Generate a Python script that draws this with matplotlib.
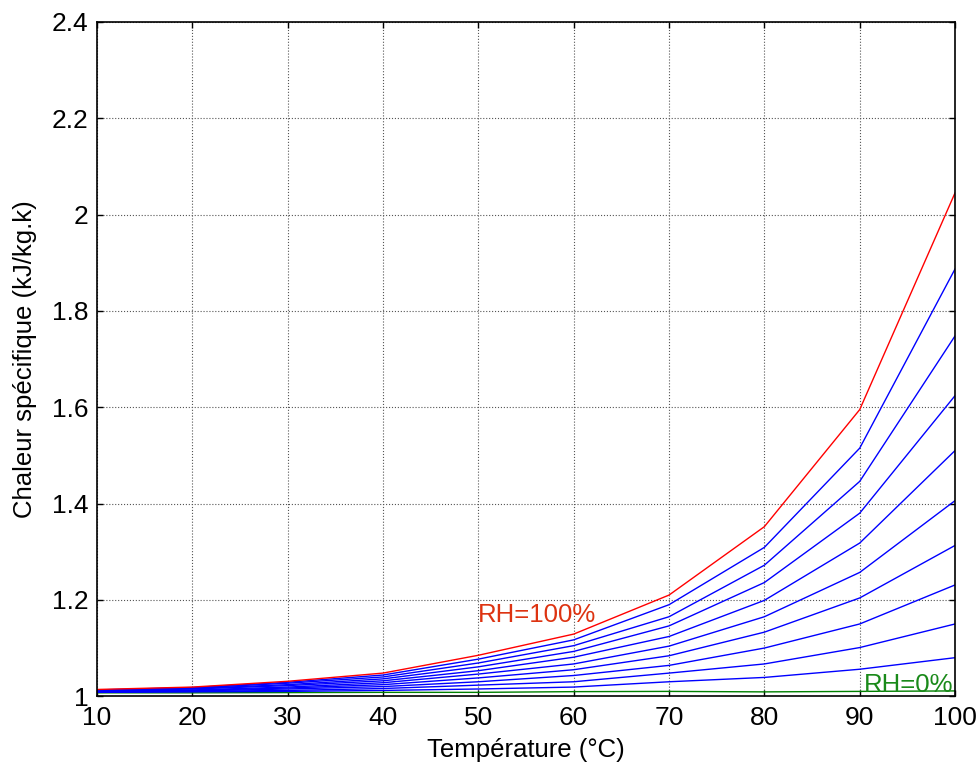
import numpy as np
import matplotlib.pyplot as plt

plt.rcParams['font.family'] = ['Liberation Sans', 'DejaVu Sans']

temp = [10, 20, 30, 40, 50, 60, 70, 80, 90, 100]

# specific heat (kJ/kg.K) for each relative humidity, RH = 0% ... 100%
cp_rh0 = [1.007, 1.007, 1.0075, 1.008, 1.008, 1.0095, 1.010, 1.009, 1.010, 1.011]
cp_rh10 = [1.008, 1.009, 1.010, 1.012, 1.015, 1.019, 1.030, 1.039, 1.056, 1.080]
cp_rh20 = [1.009, 1.010, 1.012, 1.016, 1.023, 1.030, 1.048, 1.067, 1.101, 1.150]
cp_rh30 = [1.009, 1.011, 1.015, 1.020, 1.030, 1.043, 1.064, 1.100, 1.150, 1.231]
cp_rh40 = [1.010, 1.012, 1.017, 1.024, 1.038, 1.055, 1.084, 1.133, 1.204, 1.313]
cp_rh50 = [1.010, 1.013, 1.019, 1.028, 1.046, 1.067, 1.104, 1.165, 1.257, 1.406]
cp_rh60 = [1.011, 1.015, 1.022, 1.032, 1.053, 1.081, 1.124, 1.199, 1.318, 1.510]
cp_rh70 = [1.011, 1.016, 1.024, 1.036, 1.061, 1.093, 1.146, 1.236, 1.380, 1.624]
cp_rh80 = [1.012, 1.017, 1.027, 1.040, 1.069, 1.105, 1.165, 1.272, 1.446, 1.748]
cp_rh90 = [1.013, 1.018, 1.029, 1.044, 1.077, 1.117, 1.190, 1.309, 1.515, 1.887]
cp_rh100 = [1.014, 1.019, 1.031, 1.048, 1.085, 1.129, 1.210, 1.352, 1.595, 2.045]

blue_curves = [cp_rh10, cp_rh20, cp_rh30, cp_rh40, cp_rh50,
               cp_rh60, cp_rh70, cp_rh80, cp_rh90]

yticks = [1, 1.2, 1.4, 1.6, 1.8, 2, 2.2, 2.4]
ytick_labels = ['1', '1.2', '1.4', '1.6', '1.8', '2', '2.2', '2.4']
xticks = [10, 20, 30, 40, 50, 60, 70, 80, 90, 100]

fig = plt.figure(figsize=(9.8, 7.71), dpi=100)
ax = fig.add_axes([0.099, 0.097, 0.8755, 0.8745])

ax.plot(temp, cp_rh0, color=(0, 0.5, 0), lw=1)
for cp in blue_curves:
    ax.plot(temp, cp, color='b', lw=1)
ax.plot(temp, cp_rh100, color='r', lw=1)

ax.text(50.0, 1.168, 'RH=100%', color='#dd3311', fontsize=18.5, va='center', ha='left')
ax.text(90.4, 1.024, 'RH=0%', color='#1a8a1a', fontsize=18.5, va='center', ha='left')

ax.set_xlim(10, 100)
ax.set_ylim(1, 2.4)
ax.set_xticks(xticks)
ax.set_yticks(yticks)
ax.set_yticklabels(ytick_labels)
ax.tick_params(direction='in', length=4, width=1, labelsize=19,
               top=True, right=True)
ax.tick_params(axis='x', pad=7)
ax.tick_params(axis='y', pad=6)
ax.grid(True, linestyle=':', color='#555555', linewidth=0.8)
for s in ax.spines.values():
    s.set_linewidth(1.2)

ax.set_xlabel('Température (°C)', fontsize=18.5)
ax.set_ylabel('Chaleur spécifique (kJ/kg.k)', fontsize=18.5)
ax.xaxis.set_label_coords(0.5, -0.062)
ax.yaxis.set_label_coords(-0.07, 0.5)

fig.savefig('out.png', dpi=100)
